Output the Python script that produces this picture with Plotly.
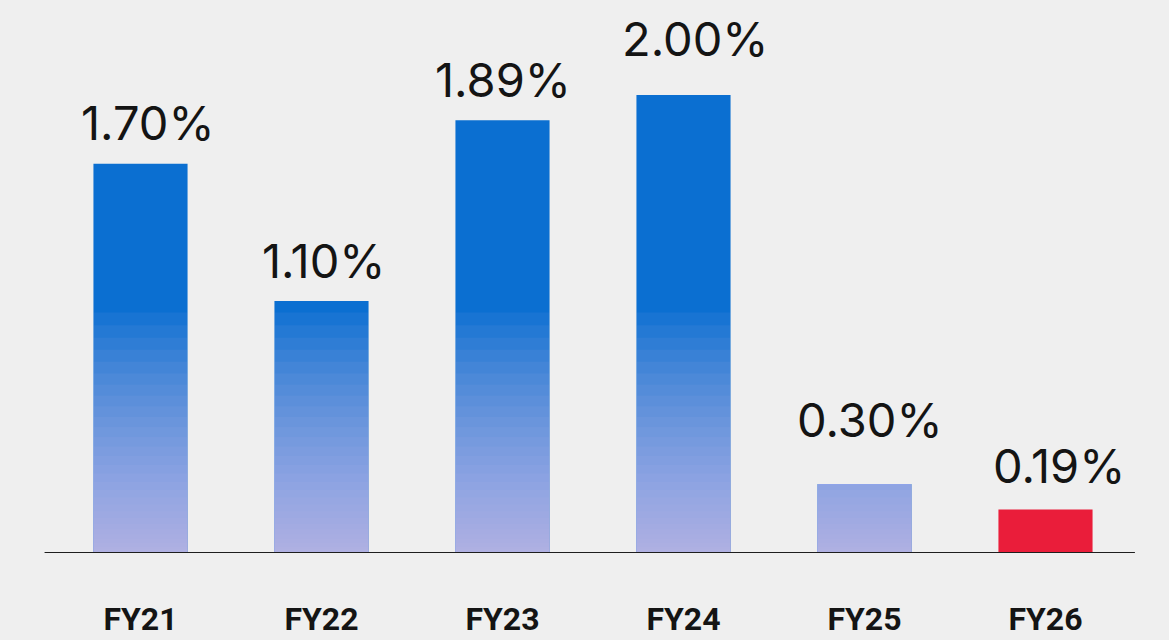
import plotly.graph_objects as go

# Fiscal years and the rate reported for each
years = ["FY21", "FY22", "FY23", "FY24", "FY25", "FY26"]
rates = [1.70, 1.10, 1.89, 2.00, 0.30, 0.19]
labels = ["1.70%", "1.10%", "1.89%", "2.00%", "0.30%", "0.19%"]

BLUE = "#0b6fd1"
RED = "#ea1d3a"
BG = "#efefef"
highlight = "FY26"

# Hand placement of each value label, in pixels (dx, dy)
label_nudge = [(7, 11), (2, 10), (0, 10), (11, 26), (5, 34), (13, 13)]

bar_colors = [RED if y == highlight else BLUE for y in years]

fig = go.Figure()
fig.add_trace(go.Bar(
    x=years, y=rates, marker=dict(color=bar_colors, line=dict(width=0)),
    width=0.52, hoverinfo="x+y",
))

# Soft wash over the lower part of the blue bars: translucent layers that
# crowd together near the baseline so the bars fade to lavender at the bottom
n_layers = 30
wash_levels = [1.05 * ((i + 1) / n_layers) ** 1.6 for i in range(n_layers)]
for lvl in wash_levels:
    fig.add_trace(go.Bar(
        x=years,
        y=[0 if y == highlight else min(v, lvl) for y, v in zip(years, rates)],
        marker=dict(color="rgba(206,196,234,0.068)", line=dict(width=0)),
        width=0.52, hoverinfo="skip",
    ))

# Value labels above each bar
for y, v, t, (dx, dy) in zip(years, rates, labels, label_nudge):
    fig.add_annotation(
        x=y, y=v, text=t, showarrow=False, yanchor="bottom",
        xshift=dx, yshift=dy,
        font=dict(family="Inter, Open Sans, sans-serif", size=47, color="#141414"),
    )

fig.update_layout(
    width=1169, height=640,
    barmode="overlay",
    showlegend=False,
    paper_bgcolor=BG, plot_bgcolor=BG,
    margin=dict(l=50, r=33, t=0, b=87),
    xaxis=dict(
        type="category", range=[-0.5, 5.5],
        showgrid=False, zeroline=False, showline=False, ticks="",
        ticklabelstandoff=44,
        tickfont=dict(family="Roboto, Inter, sans-serif", size=32, color="#141414", weight="bold"),
        fixedrange=True,
    ),
    yaxis=dict(
        range=[0, 2.415], visible=False, fixedrange=True,
    ),
)

# Baseline under the bars
fig.add_shape(type="line", xref="paper", yref="y", x0=-0.005, x1=0.999, y0=0, y1=0,
              line=dict(color="#1e1e1e", width=2))

fig.write_html("out.html")
